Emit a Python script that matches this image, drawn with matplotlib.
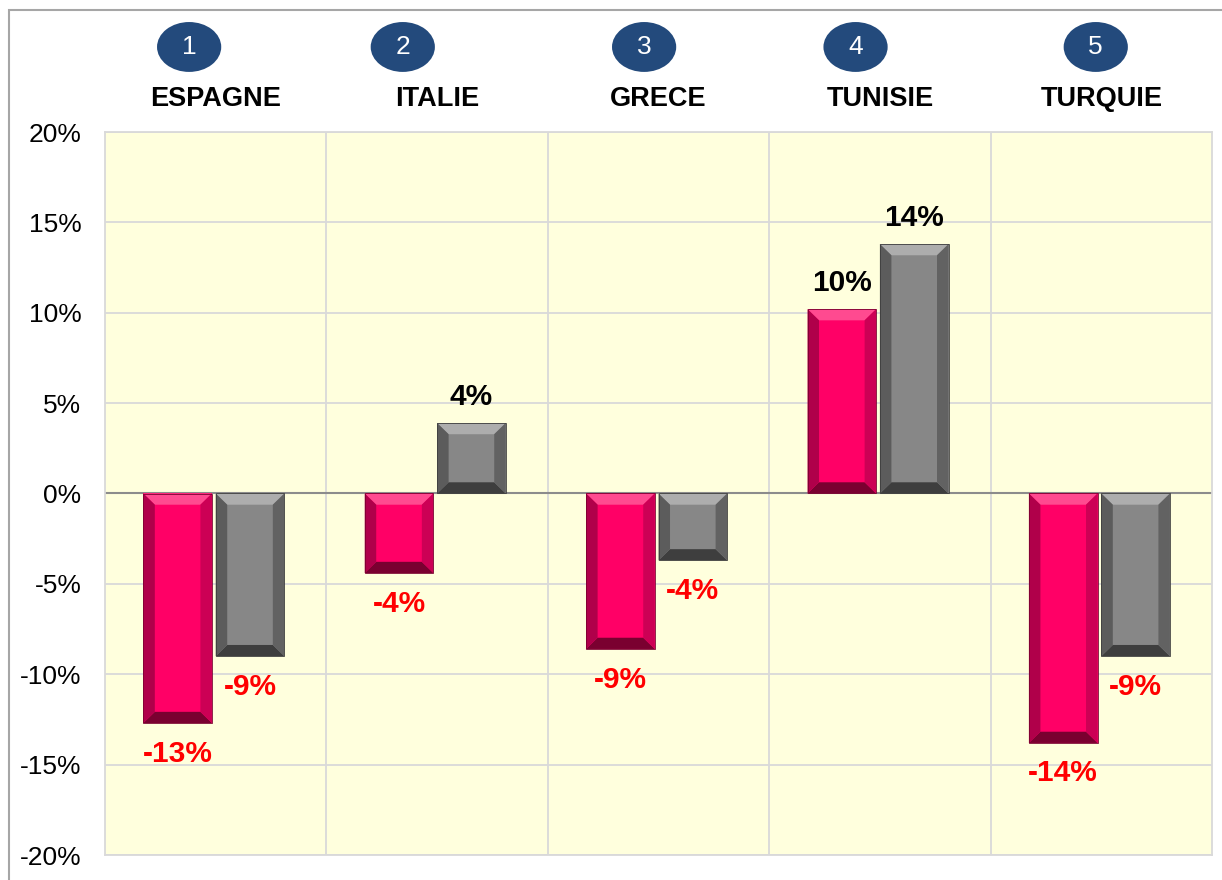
import matplotlib
matplotlib.use("Agg")
import matplotlib.pyplot as plt
from matplotlib.patches import Polygon, Ellipse, Rectangle
from matplotlib.transforms import blended_transform_factory
from matplotlib.ticker import FuncFormatter

plt.rcParams['font.family'] = ['Liberation Sans', 'DejaVu Sans']

# ---- data ----
categories = ["ESPAGNE", "ITALIE", "GRECE", "TUNISIE", "TURQUIE"]
ranks = ["1", "2", "3", "4", "5"]
series_a = [-12.7, -4.4, -8.6, 10.2, -13.8]   # pink
series_b = [-9.0, 3.9, -3.7, 13.8, -9.0]      # gray
labels_a = ["-13%", "-4%", "-9%", "10%", "-14%"]
labels_b = ["-9%", "4%", "-4%", "14%", "-9%"]
yticks = [-20, -15, -10, -5, 0, 5, 10, 15, 20]

# ---- layout / styles ----
circle_dx = [-0.12, -0.155, -0.065, -0.11, -0.025]
pink = dict(face="#FF0066", top="#FF4A90", left="#B0004A", right="#CC0055", bottom="#7A0030")
gray = dict(face="#878787", top="#ADADAD", left="#5C5C5C", right="#626262", bottom="#3E3E3E")

fig = plt.figure(figsize=(12.22, 8.8), dpi=100)
fig.patch.set_facecolor("white")
ax = fig.add_axes([105/1222, 25/880, 1107/1222, 723/880])
ax.set_facecolor("#FFFFDD")

n = len(categories)
xs = list(range(n))
w = 0.31
bars_a = ax.bar([x - 0.172 for x in xs], series_a, width=w, color=pink["face"], zorder=3, linewidth=0)
bars_b = ax.bar([x + 0.155 for x in xs], series_b, width=w, color=gray["face"], zorder=3, linewidth=0)

ax.set_xlim(-0.5, n - 0.5)
ax.set_ylim(-20, 20)

# bevels
bx = 0.052
by = 0.62
def bevel(bar, c):
    x0 = bar.get_x(); x1 = x0 + bar.get_width()
    y0 = bar.get_y(); y1 = y0 + bar.get_height()
    lo, hi = min(y0, y1), max(y0, y1)
    polys = [
        ([(x0, hi), (x1, hi), (x1 - bx, hi - by), (x0 + bx, hi - by)], c["top"]),
        ([(x0, lo), (x1, lo), (x1 - bx, lo + by), (x0 + bx, lo + by)], c["bottom"]),
        ([(x0, lo), (x0 + bx, lo + by), (x0 + bx, hi - by), (x0, hi)], c["left"]),
        ([(x1, lo), (x1 - bx, lo + by), (x1 - bx, hi - by), (x1, hi)], c["right"]),
    ]
    for pts, col in polys:
        ax.add_patch(Polygon(pts, closed=True, facecolor=col, edgecolor="none", zorder=4))
    ax.add_patch(Rectangle((x0, lo), x1 - x0, hi - lo, facecolor="none",
                           edgecolor=c["bottom"], linewidth=0.6, zorder=5))

for b in bars_a:
    bevel(b, pink)
for b in bars_b:
    bevel(b, gray)

# value labels
def put_labels(bars, vals, labs):
    for b, v, t in zip(bars, vals, labs):
        cx = b.get_x() + b.get_width() / 2
        if v >= 0:
            ax.annotate(t, (cx, v), xytext=(0, 19), textcoords="offset points",
                        ha="center", va="center", fontsize=21.5, fontweight="bold", color="black", zorder=6)
        else:
            ax.annotate(t, (cx, v), xytext=(0, -22), textcoords="offset points",
                        ha="center", va="center", fontsize=21.5, fontweight="bold", color="#FF0000", zorder=6)
put_labels(bars_a, series_a, labels_a)
put_labels(bars_b, series_b, labels_b)

# grid
ax.set_yticks(yticks)
ax.yaxis.set_major_formatter(FuncFormatter(lambda v, p: f"{int(v)}%"))
ax.set_xticks([])
for y in yticks:
    ax.axhline(y, color="#D9D9D9", linewidth=1.3, zorder=1)
for x in range(1, n):
    ax.axvline(x - 0.5, color="#D9D9D9", linewidth=1.3, zorder=1)
ax.axhline(0, color="#8C8C8C", linewidth=1.5, zorder=2)
for s in ax.spines.values():
    s.set_color("#D9D9D9"); s.set_linewidth(1.3)
ax.tick_params(axis="y", length=0, labelsize=19, pad=17, colors="black")

# headers
trans = blended_transform_factory(ax.transData, ax.transAxes)
for i, (cat, r) in enumerate(zip(categories, ranks)):
    ax.text(i, 1.0456, cat, transform=trans, ha="center", va="center",
            fontsize=19.5, fontweight="bold", color="black", clip_on=False)
    cx = i + circle_dx[i]
    ax.add_patch(Ellipse((cx, 1.1176), 0.29, 0.069, transform=trans, facecolor="#234A7C",
                         edgecolor="none", clip_on=False, zorder=5))
    ax.text(cx, 1.1176, r, transform=trans, ha="center", va="center",
            fontsize=19, color="white", clip_on=False, zorder=6)

# outer frame (clipped at right and bottom)
fig.add_artist(Rectangle((9/1222, -0.05), 1.05, 1 - 10/880 + 0.05, transform=fig.transFigure,
                         facecolor="none", edgecolor="#A6A6A6", linewidth=1.5))

fig.savefig("out.png", dpi=100)
